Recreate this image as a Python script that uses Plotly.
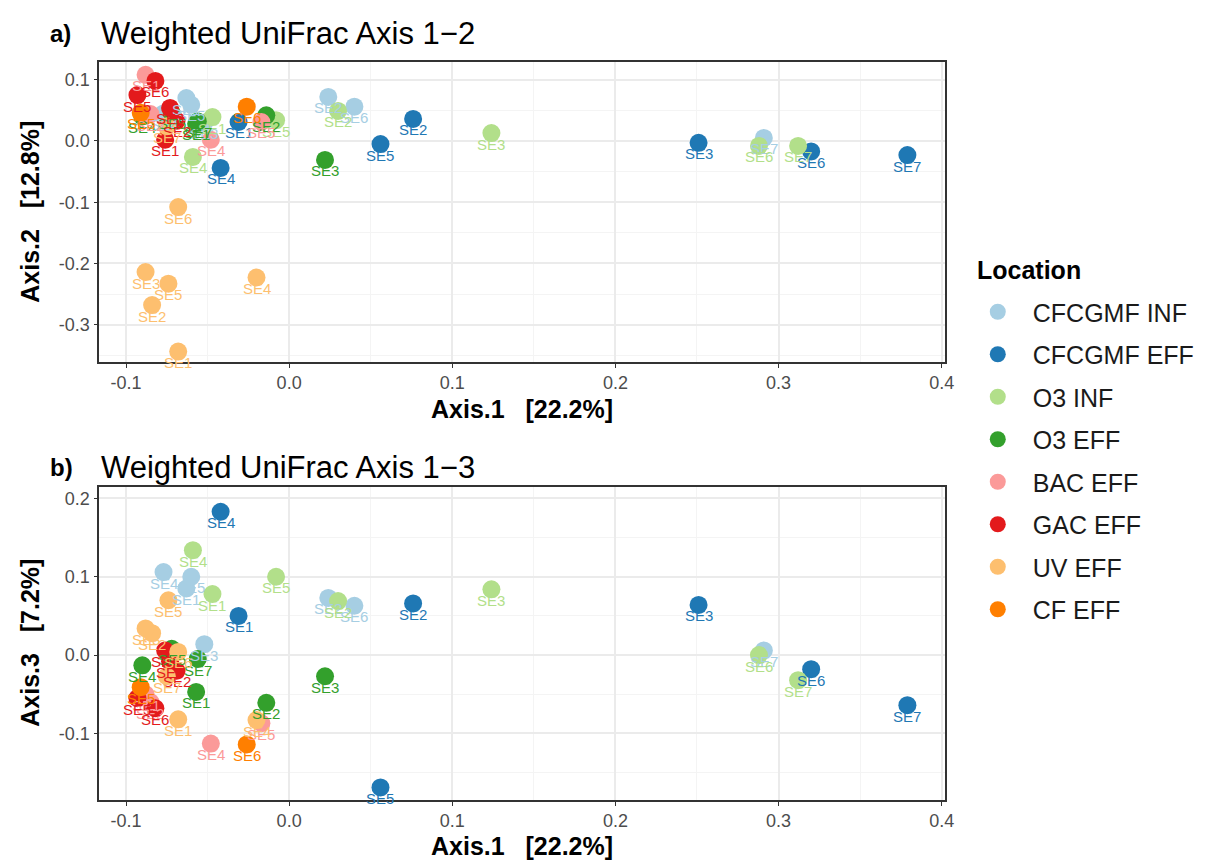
import plotly.graph_objects as go

# PCoA coordinates (weighted UniFrac) per location group
groups = ["CFCGMF INF", "CFCGMF EFF", "O3 INF", "O3 EFF", "BAC EFF", "GAC EFF", "UV EFF", "CF EFF"]
colors = ["#A6CEE3", "#1F78B4", "#B2DF8A", "#33A02C", "#FB9A99", "#E31A1C", "#FDBF6F", "#FF7F00"]

cfcgmf_inf_samples = ["SE1", "SE2", "SE3", "SE4", "SE5", "SE6", "SE7"]
cfcgmf_inf_ax1 = [-0.063, 0.024, -0.052, -0.077, -0.060, 0.040, 0.291]
cfcgmf_inf_ax2 = [0.070, 0.072, 0.030, 0.045, 0.059, 0.056, 0.005]
cfcgmf_inf_ax3 = [0.085, 0.073, 0.014, 0.106, 0.100, 0.063, 0.006]

cfcgmf_eff_samples = ["SE1", "SE2", "SE3", "SE4", "SE5", "SE6", "SE7"]
cfcgmf_eff_ax1 = [-0.031, 0.076, 0.251, -0.042, 0.056, 0.320, 0.379]
cfcgmf_eff_ax2 = [0.031, 0.036, -0.003, -0.044, -0.005, -0.017, -0.023]
cfcgmf_eff_ax3 = [0.050, 0.066, 0.064, 0.183, -0.169, -0.018, -0.064]

o3_inf_samples = ["SE1", "SE2", "SE3", "SE4", "SE5", "SE6", "SE7"]
o3_inf_ax1 = [-0.047, 0.030, 0.124, -0.059, -0.008, 0.288, 0.312]
o3_inf_ax2 = [0.039, 0.049, 0.013, -0.026, 0.034, -0.008, -0.008]
o3_inf_ax3 = [0.078, 0.069, 0.084, 0.134, 0.100, 0.000, -0.032]

o3_eff_samples = ["SE1", "SE2", "SE3", "SE4", "SE5", "SE7"]
o3_eff_ax1 = [-0.057, -0.014, 0.022, -0.090, -0.072, -0.056]
o3_eff_ax2 = [0.028, 0.042, -0.031, 0.040, 0.046, 0.032]
o3_eff_ax3 = [-0.047, -0.061, -0.027, -0.013, 0.008, -0.005]

bac_eff_samples = ["SE1", "SE2", "SE4", "SE5"]
bac_eff_ax1 = [-0.088, -0.085, -0.048, -0.017]
bac_eff_ax2 = [0.108, 0.044, 0.002, 0.031]
bac_eff_ax3 = [-0.050, -0.060, -0.113, -0.087]

gac_eff_samples = ["SE1", "SE2", "SE3", "SE5", "SE6"]
gac_eff_ax1 = [-0.076, -0.069, -0.073, -0.093, -0.082]
gac_eff_ax2 = [0.002, 0.033, 0.054, 0.075, 0.098]
gac_eff_ax3 = [0.006, -0.020, -0.008, -0.055, -0.068]

uv_eff_samples = ["SE1", "SE2", "SE3", "SE4", "SE5", "SE6", "SE7"]
uv_eff_ax1 = [-0.068, -0.084, -0.088, -0.020, -0.074, -0.068, -0.075]
uv_eff_ax2 = [-0.344, -0.268, -0.214, -0.223, -0.233, -0.108, 0.024]
uv_eff_ax3 = [-0.082, 0.028, 0.034, -0.083, 0.070, 0.004, -0.027]

cf_eff_samples = ["SE5", "SE6"]
cf_eff_ax1 = [-0.091, -0.026]
cf_eff_ax2 = [0.046, 0.056]
cf_eff_ax3 = [-0.041, -0.114]

group_data = [
    (cfcgmf_inf_samples, cfcgmf_inf_ax1, cfcgmf_inf_ax2, cfcgmf_inf_ax3),
    (cfcgmf_eff_samples, cfcgmf_eff_ax1, cfcgmf_eff_ax2, cfcgmf_eff_ax3),
    (o3_inf_samples, o3_inf_ax1, o3_inf_ax2, o3_inf_ax3),
    (o3_eff_samples, o3_eff_ax1, o3_eff_ax2, o3_eff_ax3),
    (bac_eff_samples, bac_eff_ax1, bac_eff_ax2, bac_eff_ax3),
    (gac_eff_samples, gac_eff_ax1, gac_eff_ax2, gac_eff_ax3),
    (uv_eff_samples, uv_eff_ax1, uv_eff_ax2, uv_eff_ax3),
    (cf_eff_samples, cf_eff_ax1, cf_eff_ax2, cf_eff_ax3),
]

x_ticks = [-0.1, 0.0, 0.1, 0.2, 0.3, 0.4]
x_ticktext = ["-0.1", "0.0", "0.1", "0.2", "0.3", "0.4"]
y2_ticks = [0.1, 0.0, -0.1, -0.2, -0.3]
y2_ticktext = ["0.1", "0.0", "-0.1", "-0.2", "-0.3"]
y3_ticks = [0.2, 0.1, 0.0, -0.1]
y3_ticktext = ["0.2", "0.1", "0.0", "-0.1"]

W, H = 1208, 861
FONT = "Liberation Sans, Arial, sans-serif"

fig = go.Figure()

for name, col, (smp, a1, a2, a3) in zip(groups, colors, group_data):
    fig.add_trace(go.Scatter(
        x=a1, y=a2, mode="markers", name=name, legendgroup=name,
        marker=dict(color=col, size=18, line=dict(width=0)),
        xaxis="x", yaxis="y", showlegend=True, hoverinfo="skip"))
    fig.add_trace(go.Scatter(
        x=a1, y=a3, mode="markers", name=name, legendgroup=name,
        marker=dict(color=col, size=18, line=dict(width=0)),
        xaxis="x2", yaxis="y2", showlegend=False, hoverinfo="skip"))

# sample labels sit just under each point, above all markers
annotations = []
for col, (smp, a1, a2, a3) in zip(colors, group_data):
    for xr, yr, yv in (("x", "y", a2), ("x2", "y2", a3)):
        for s, xv, yy in zip(smp, a1, yv):
            annotations.append(dict(
                text=s, x=xv, y=yy, xref=xr, yref=yr, showarrow=False,
                xanchor="center", yanchor="middle", yshift=-11,
                font=dict(size=15, color=col, family=FONT)))

xdom = [100 / W, 952 / W]
ya_dom = [1 - 362 / H, 1 - 62 / H]
yb_dom = [1 - 800 / H, 1 - 487 / H]

grid_major = "#EBEBEB"
grid_minor = "#F4F4F4"
TICKFONT = dict(size=18, color="#4D4D4D", family=FONT)

def xaxis_cfg(anchor):
    return dict(
        domain=xdom, anchor=anchor, range=[-0.1164, 0.402],
        tickmode="array", tickvals=x_ticks, ticktext=x_ticktext,
        showgrid=True, gridcolor=grid_major, gridwidth=1.5,
        minor=dict(tickvals=[-0.05, 0.05, 0.15, 0.25, 0.35], showgrid=True,
                   gridcolor=grid_minor, gridwidth=0.8),
        ticks="outside", ticklen=4, tickcolor="#333333", tickwidth=1,
        tickfont=TICKFONT,
        showline=True, linecolor="#333333", linewidth=1.5, mirror=True,
        zeroline=False)

def yaxis_cfg(anchor, dom, rng, tv, tt, minor_vals):
    return dict(
        domain=dom, anchor=anchor, range=rng,
        tickmode="array", tickvals=tv, ticktext=tt,
        showgrid=True, gridcolor=grid_major, gridwidth=1.5,
        minor=dict(tickvals=minor_vals, showgrid=True, gridcolor=grid_minor, gridwidth=0.8),
        ticks="outside", ticklen=4, tickcolor="#333333", tickwidth=1,
        tickfont=TICKFONT,
        showline=True, linecolor="#333333", linewidth=1.5, mirror=True,
        zeroline=False)

fig.update_layout(
    width=W, height=H,
    margin=dict(l=0, r=0, t=0, b=0),
    paper_bgcolor="white", plot_bgcolor="white",
    font=dict(family=FONT, color="black"),
    xaxis=xaxis_cfg("y"),
    yaxis=yaxis_cfg("x", ya_dom, [-0.361, 0.129], y2_ticks, y2_ticktext,
                    [0.05, -0.05, -0.15, -0.25, -0.35]),
    xaxis2=xaxis_cfg("y2"),
    yaxis2=yaxis_cfg("x2", yb_dom, [-0.185, 0.2146], y3_ticks, y3_ticktext,
                     [0.15, 0.05, -0.05, -0.15]),
    legend=dict(
        font=dict(size=25, family=FONT, color="#1A1A1A"),
        x=970 / W, y=1 - 289 / H, xanchor="left", yanchor="top",
        tracegroupgap=7, itemsizing="trace", itemwidth=60,
        bgcolor="rgba(0,0,0,0)"),
    showlegend=True,
)

headers = [
    dict(text="<b>a)</b>", x=48 / W, y=1 - 33 / H, font=dict(size=24)),
    dict(text="Weighted UniFrac Axis 1\u22122", x=100 / W, y=1 - 33 / H, font=dict(size=31)),
    dict(text="<b>b)</b>", x=48 / W, y=1 - 467 / H, font=dict(size=24)),
    dict(text="Weighted UniFrac Axis 1\u22123", x=100 / W, y=1 - 467 / H, font=dict(size=31)),
    dict(text="<b>Location</b>", x=982 / W, y=1 - 270 / H, font=dict(size=25)),
]
for a in headers:
    a.update(xref="paper", yref="paper", xanchor="left", yanchor="middle", showarrow=False)
    a["font"]["family"] = FONT
    a["font"]["color"] = "black"
annotations.extend(headers)

for txt, xc, yc, ang in [
    ("<b>Axis.1   [22.2%]</b>", 526 / W, 1 - 409 / H, 0),
    ("<b>Axis.2   [12.8%]</b>", 30 / W, 1 - 212 / H, -90),
    ("<b>Axis.1   [22.2%]</b>", 526 / W, 1 - 846 / H, 0),
    ("<b>Axis.3   [7.2%]</b>", 30 / W, 1 - 643 / H, -90),
]:
    annotations.append(dict(text=txt, x=xc, y=yc, xref="paper", yref="paper",
                            xanchor="center", yanchor="middle", showarrow=False,
                            textangle=ang, font=dict(size=25, family=FONT, color="black")))

fig.update_layout(annotations=annotations)

fig.write_html("out.html")
